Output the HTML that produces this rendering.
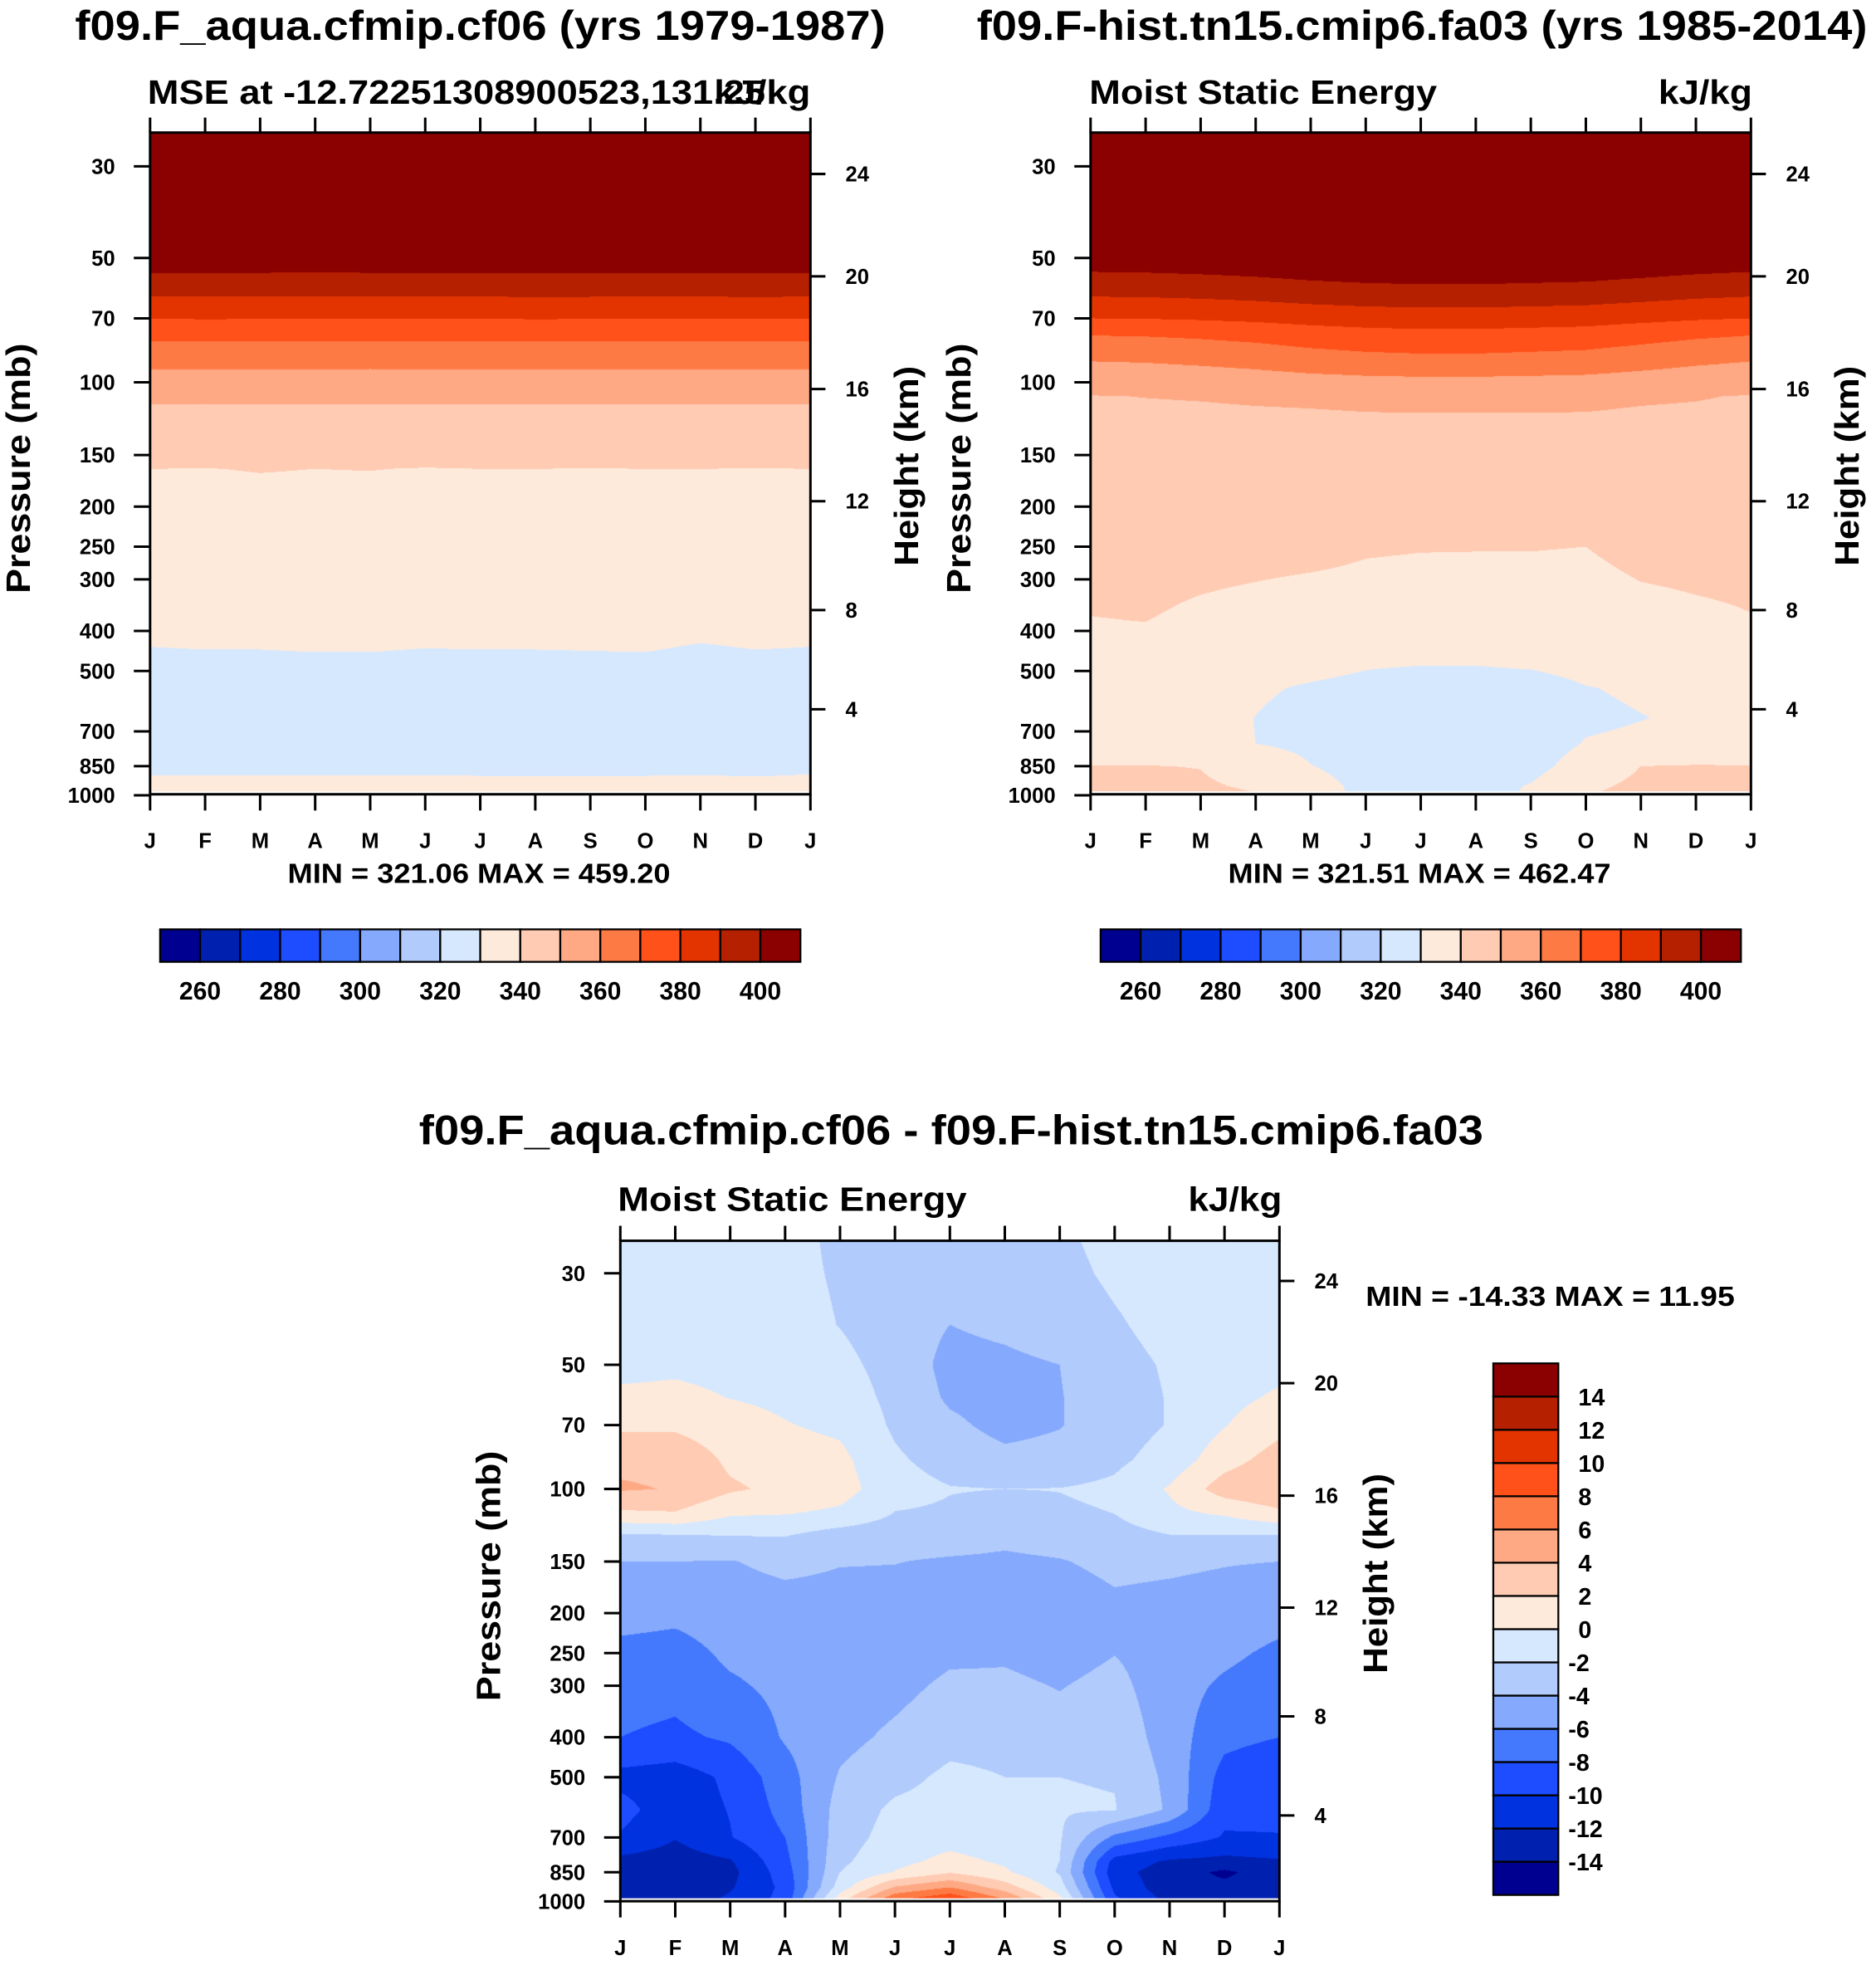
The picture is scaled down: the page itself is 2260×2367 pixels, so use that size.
<!DOCTYPE html>
<html><head><meta charset="utf-8">
<style>
html,body{margin:0;padding:0;background:#fff;}
#wrap{position:relative;width:2260px;height:2367px;overflow:hidden;background:#fff;}
#fills{position:absolute;left:0;top:0;}
#axes{position:absolute;left:0;top:0;}
text{font-family:"Liberation Sans",Arial,sans-serif;font-weight:bold;fill:#000;}
</style></head>
<body>
<div id="wrap">
<canvas id="fills" width="2260" height="2367"></canvas>
<svg id="axes" width="2260" height="2367" viewBox="0 0 1500 1571" xmlns="http://www.w3.org/2000/svg"></svg>
</div>
<script>
// ---------- data ----------
const months = ['J','F','M','A','M','J','J','A','S','O','N','D','J'];
const pressureTicks = [30,50,70,100,150,200,250,300,400,500,700,850,1000];
const heightTickLabels = [24,20,16,12,8,4];
const heightTickPressures = [31.3,55.4,103.8,194,356,619];
const palette = ['#000090','#0021b0','#0032e0','#1e4cff','#4479fe','#84a9fd','#b1cbfc','#d6e8fe','#feeadb','#ffcbb3','#fea984','#fe7a45','#ff5119','#e33400','#b52000','#8b0000'];
const mseEdges = [260,270,280,290,300,310,320,330,340,350,360,370,380,390,400];
const mseLabels = [260,280,300,320,340,360,380,400];
const diffEdges = [-14,-12,-10,-8,-6,-4,-2,0,2,4,6,8,10,12,14];

const levels1 = [25,54.3,62,70.2,79.7,93,113,162,300,437,650,894,1000];
const mse1 = [
[440,440,440,440,440,440,440,440,440,440,440,440,440],
[400,400.1,400,399.9,400,400.2,400.1,400,400.2,400,400.1,400,400],
[390,389.9,390,390,389.8,390.1,390,390.2,390.1,390,390,390.2,390],
[380,380.2,380.1,380,380,380.1,380,380.2,380.1,380,380,380.1,380],
[370,370,369.9,369.8,369.8,370,370,370,370,370,370,370,370],
[360,359.9,360,360,359.9,360,360,360,360,360,360,360,360],
[350,349.9,350,350,349.9,350,350,350,350,349.9,350,350,350],
[340,339.9,340.2,340,340.1,339.8,340,340,339.9,340,340,339.9,340],
[335,335,335,335,335,335,335,335,335,335,335,335,335],
[330,330.2,330.2,330.4,330.4,330.1,330.2,330.2,330.3,330.4,329.7,330.2,330],
[325,325,325,325,325,325,325,325,325,325,325,325,325],
[330,330,330,330,330,330,329.9,329.8,329.9,329.9,330,329.8,330.1],
[333,333,333,333,333,333,333,333,333,333,333,333,333]];

const levels2 = [25,54,62,70,77,89,108,150,250,350,450,550,650,750,850,950,1000];
const mse2 = [
[440,440,440,440,440,440,440,440,440,440,440,440,440],
[400,400.3,401,402,403.5,404.5,405,405,404.5,404,402.5,401,400],
[390,390.3,391,392,393.5,394.5,395,395,394.5,394,392.5,391,390],
[380,380.3,381,382,383.5,384.5,385,385,384.5,384,382.5,381,380],
[370,370.4,371.4,372.8,374.9,376.3,377,377,376.3,375.6,373.5,371.4,370],
[360,360.4,361.4,362.8,364.9,366.3,367,367,366.3,365.6,363.5,361.4,360],
[349.8,350.1,350.3,350.6,350.8,351.1,351.2,351.2,351.2,351.1,350.6,350.3,349.7],
[347,347,347,347,347,347,347,347,347,347,347,347,347],
[344,344,344,343.5,343,341,340.5,340.4,340.4,340,343.5,344,344],
[340.5,341,339,337.5,336,336,335.5,335.5,335.5,335,337.5,339,340.3],
[338,338,336,334,334,332,332,332,333,334,335,336,338],
[336,336,333,331,329.2,328,326.7,326.7,326.8,329.7,331,331.5,336],
[335,335,332,329.9,327.5,326,325.5,325.5,326,328.5,329.8,331,335],
[334,334,332,330,328,325.5,325,325,325.5,330.5,331.5,332,334],
[340.2,340.2,339.8,336,330.2,327,326,326,327,334,340,340.5,340.2],
[342,342,341,339,333,328,327,327,330.5,338,342,342,342],
[343,343,342,340.5,332,329,328,328,330.8,339.8,343,343,343]];

const levels3 = [25,30,40,50,60,70,85,100,115,130,150,200,250,300,400,500,600,700,800,850,925,1000];
const diff3 = [
[-1.2,-1.2,-1,-1.5,-2.3,-3,-3.2,-3,-2.3,-1.5,-1.0,-0.8,-1.2],
[-1.2,-1.2,-1,-1.5,-2.2,-3,-3.5,-3.2,-2.5,-1.7,-1.1,-0.9,-1.2],
[-1.1,-1.1,-1,-1.3,-2.05,-3,-4.0,-3.6,-3,-2.2,-1.4,-1.0,-1.1],
[-0.6,-0.4,-0.6,-0.8,-1.5,-2.7,-4.6,-4.4,-4.0,-2.6,-1.8,-1.0,-0.6],
[0.4,0.5,-0.05,-0.4,-1.0,-2.5,-4.3,-4.8,-4.1,-2.8,-1.9,-0.6,0.3],
[1.6,1.6,0.8,0.1,-0.4,-2.3,-3.6,-4.6,-4.1,-2.9,-1.9,-0.1,1.4],
[3.6,3.5,1.6,0.9,0.5,-1.7,-2.8,-3.5,-3.3,-2.4,-1.2,1.2,2.9],
[4.2,3.9,2.3,1.5,0.8,-1.2,-1.9,-2.0,-1.95,-1.6,0.2,3.0,3.9],
[1.6,1.8,0.2,0.05,-0.4,-2.1,-2.3,-2.8,-2.3,-2.0,-0.5,0.2,1.5],
[-2.4,-2.2,-2,-1.95,-3.0,-3.2,-3.2,-3.6,-3.3,-2.8,-2.1,-2.1,-2.2],
[-4,-4,-4.1,-3.5,-3.9,-3.95,-4.2,-4.3,-4.1,-3.6,-3.7,-3.9,-4],
[-5.2,-5.5,-5.0,-4.9,-4.8,-4.8,-5.3,-5.0,-5.0,-4.4,-4.6,-4.8,-5.3],
[-6.6,-6.8,-5.6,-5.2,-5.2,-5.2,-4.4,-4.3,-4.8,-4.05,-5.0,-5.6,-6.4],
[-7.2,-7.4,-6.3,-5.5,-5.2,-4.6,-3.6,-3.6,-4.1,-3.4,-5.2,-6.3,-7.0],
[-8.0,-8.4,-7.7,-5.8,-4.6,-3.6,-2.6,-2.6,-3.2,-2.6,-5.0,-7.4,-8.0],
[-10.6,-11,-9.6,-6.8,-3.8,-2.6,-1.6,-2.0,-2.0,-2.1,-4.5,-8.8,-9.8],
[-9.3,-11.2,-9.9,-7.3,-3.2,-1.6,-1.3,-1.6,-1.8,-1.9,-4.3,-9.4,-9.5],
[-10.2,-11.9,-10.1,-8.0,-2.9,-1.2,-0.8,-1.2,-1.8,-6.5,-8.5,-10.2,-10.1],
[-12.6,-13,-12.2,-8.6,-2.4,-0.6,0.6,-0.3,-2.0,-10.8,-12.3,-12.6,-12.2],
[-13,-13.4,-12.6,-9.0,-2.0,0.1,1.8,0.3,-2.2,-11.3,-13,-14.4,-12.8],
[-13.2,-13.5,-12.2,-9.5,-1.0,4.2,6,3,-1.0,-10.5,-13.2,-13.5,-12.9],
[-13.2,-13.0,-11.6,-9.3,1.5,8.2,10.5,6.5,0.8,-9.5,-12.5,-13,-12.8]];

// ---------- layout ----------
const S = 2260/1500;
const P1 = {x0:120,x1:648,y0:106,y1:635,y30:133,k:143.4};
const P2 = {x0:872,x1:1400,y0:106,y1:635,y30:133,k:143.4};
const P3 = {x0:496,x1:1023,y0:992,y1:1520,y30:1018,k:143.2};
const yOf = (P,p) => P.y30 + P.k*Math.log(p/30);
const xOf = (P,m) => P.x0 + (P.x1-P.x0)*m/12;

function hexToRgb(h){return [parseInt(h.substr(1,2),16),parseInt(h.substr(3,2),16),parseInt(h.substr(5,2),16)];}
const palRGB = palette.map(hexToRgb);

function drawField(ctx,P,levels,rows,edges){
  const lnL = levels.map(Math.log);
  const X0=Math.round(P.x0*S), X1=Math.round(P.x1*S), Y0=Math.round(P.y0*S), Y1=Math.round(P.y1*S);
  const W=X1-X0, H=Y1-Y0;
  const img = ctx.createImageData(W,H);
  const d = img.data;
  for(let py=0;py<H;py++){
    const yd=(Y0+py+0.5)/S;
    const lnp=Math.log(30)+(yd-P.y30)/P.k;
    let j=0;
    while(j<lnL.length-2 && lnp>lnL[j+1]) j++;
    let wy=(lnp-lnL[j])/(lnL[j+1]-lnL[j]); wy=Math.max(0,Math.min(1,wy));
    const ra=rows[j], rb=rows[j+1];
    for(let px=0;px<W;px++){
      const xd=(X0+px+0.5)/S;
      let t=(xd-P.x0)/(P.x1-P.x0)*12; t=Math.max(0,Math.min(12,t));
      let i=Math.min(11,Math.floor(t)); const wx=t-i;
      const a=ra[i]*(1-wx)+ra[i+1]*wx, b=rb[i]*(1-wx)+rb[i+1]*wx;
      const v=a*(1-wy)+b*wy;
      let bin=0; while(bin<edges.length && v>=edges[bin]) bin++;
      const c=palRGB[bin]; const o=(py*W+px)*4;
      d[o]=c[0]; d[o+1]=c[1]; d[o+2]=c[2]; d[o+3]=255;
    }
  }
  ctx.putImageData(img,X0,Y0);
}
const ctx=document.getElementById('fills').getContext('2d');
drawField(ctx,P1,levels1,mse1,mseEdges);
drawField(ctx,P2,levels2,mse2,mseEdges);
drawField(ctx,P3,levels3,diff3,diffEdges);

// ---------- svg ----------
const svg=document.getElementById('axes');
const NS='http://www.w3.org/2000/svg';
function mk(tag,attrs,parent){const e=document.createElementNS(NS,tag);for(const k in attrs)e.setAttribute(k,attrs[k]);(parent||svg).appendChild(e);return e;}
function txt(str,attrs,parent){const e=mk('text',attrs,parent);e.textContent=str;return e;}

function drawAxes(P,id){
  const g=mk('g',{});
  
  
  // white gap line near bottom
  const wl=mk('line',{x1:P.x0,x2:P.x1,y1:P.y1-1.5,y2:P.y1-1.5,stroke:'#fff','stroke-width':1.6},g);
  
  
  const fr=mk('rect',{x:P.x0,y:P.y0,width:P.x1-P.x0,height:P.y1-P.y0,fill:'none',stroke:'#000','stroke-width':2},g);
  
  
  months.forEach((m,i)=>{
    const x=xOf(P,i);
    const t1=mk('line',{x1:x,x2:x,y1:P.y0,y2:P.y0-12,stroke:'#000','stroke-width':2},g);
    
    
    const t2=mk('line',{x1:x,x2:x,y1:P.y1,y2:P.y1+13,stroke:'#000','stroke-width':2},g);
    
    
    const l=txt(m,{x:x,y:P.y1+43,'font-size':17,'text-anchor':'middle'},g);
    
    
  });
  pressureTicks.forEach(p=>{
    const y=yOf(P,p);
    const t=mk('line',{x1:P.x0,x2:P.x0-13,y1:y,y2:y,stroke:'#000','stroke-width':2},g);
    
    
    const l=txt(String(p),{x:P.x0-28,y:y+6,'font-size':17,'text-anchor':'end'},g);
    
    
  });
  heightTickLabels.forEach((h,i)=>{
    const y=yOf(P,heightTickPressures[i]);
    const t=mk('line',{x1:P.x1,x2:P.x1+12,y1:y,y2:y,stroke:'#000','stroke-width':2},g);
    
    
    const l=txt(String(h),{x:P.x1+28,y:y+6,'font-size':17},g);
    
    
  });
  const ytl=txt('Pressure (mb)',{x:0,y:0,'font-size':27,'text-anchor':'middle',textLength:200,lengthAdjust:'spacingAndGlyphs',transform:`translate(${P.x0-96},${(P.y0+P.y1)/2+4}) rotate(-90)`},g);
  
  
  const htl=txt('Height (km)',{x:0,y:0,'font-size':27,'text-anchor':'middle',textLength:160,lengthAdjust:'spacingAndGlyphs',transform:`translate(${P.x1+86},${(P.y0+P.y1)/2+2}) rotate(-90)`},g);
  
  
}
drawAxes(P1,'panel1');
drawAxes(P2,'panel2');
drawAxes(P3,'panel3');

function T(str,x,y,size,len,name,anchor){
  const a={x:x,y:y,'font-size':size,textLength:len,lengthAdjust:'spacingAndGlyphs'};
  if(anchor)a['text-anchor']=anchor;
  const e=txt(str,a);
  
  
  return e;
}
T('f09.F_aqua.cfmip.cf06 (yrs 1979-1987)',60,32,33,648,'panel1-title');
T('f09.F-hist.tn15.cmip6.fa03 (yrs 1985-2014)',781,32,33,712,'panel2-title');
T('MSE at -12.72251308900523,131.25',118,83,27,494,'panel1-subtitle');
T('kJ/kg',571,83,27,77,'panel1-units');
T('Moist Static Energy',871,83,27,278,'panel2-subtitle');
T('kJ/kg',1326,83,27,75,'panel2-units');
T('MIN = 321.06 MAX = 459.20',230,706,22,306,'panel1-minmax');
T('MIN = 321.51 MAX = 462.47',982,706,22,306,'panel2-minmax');
T('f09.F_aqua.cfmip.cf06 - f09.F-hist.tn15.cmip6.fa03',335,915,33,851,'panel3-title');
T('Moist Static Energy',494,968,27,279,'panel3-subtitle');
T('kJ/kg',950,968,27,75,'panel3-units');
T('MIN = -14.33 MAX =  11.95',1092,1044,22,295,'panel3-minmax');

function hbar(x0,y0,w,h,id){
  const g=mk('g',{});
  
  
  palette.forEach((c,i)=>{
    const r=mk('rect',{x:x0+i*w,y:y0,width:w,height:h,fill:c,stroke:'#000','stroke-width':1.5},g);
    
    
  });
  mseEdges.forEach((e,i)=>{
    if(mseLabels.indexOf(e)<0)return;
    const l=txt(String(e),{x:x0+(i+1)*w,y:y0+h+30,'font-size':20,'text-anchor':'middle'},g);
    
    
  });
}
hbar(128,743,32,26,'panel1-colorbar');
hbar(880,743,32,26,'panel2-colorbar');

(function(){
  const x0=1194,y0=1090,w=52,h=425/16;
  const g=mk('g',{});
  
  
  palette.forEach((c,i)=>{
    const r=mk('rect',{x:x0,y:y0+(15-i)*h,width:w,height:h,fill:c,stroke:'#000','stroke-width':1.5},g);
    
    
  });
  diffEdges.forEach((e,i)=>{
    const y=y0+(15-i)*h;
    const l=txt(String(e),{x:e<0?1254:1262,y:y+7,'font-size':19},g);
    
    
  });
})();
</script>
</body></html>
